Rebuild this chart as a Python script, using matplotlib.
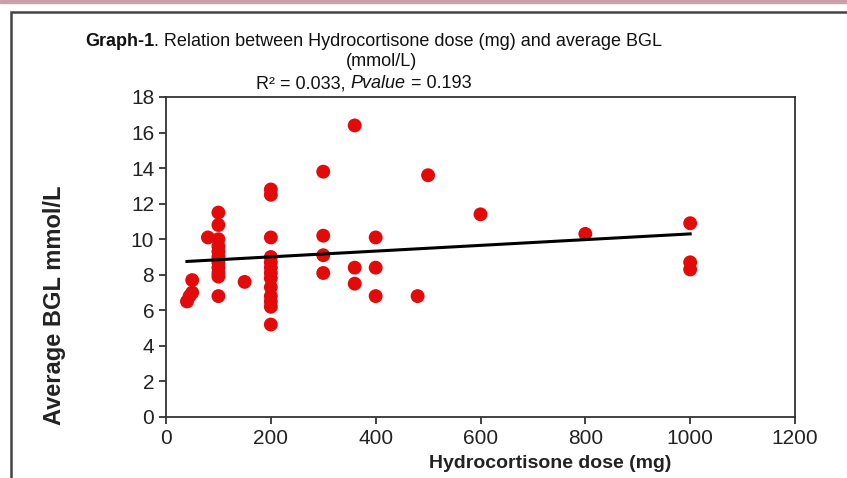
import numpy as np
import matplotlib.pyplot as plt
from matplotlib.patches import Rectangle

# dose (mg) and average BGL (mmol/L)
dose = [40, 45, 50, 50, 80,
        100, 100, 100, 100, 100, 100, 100, 100, 100, 100, 100,
        150,
        200, 200, 200, 200, 200, 200, 200, 200, 200, 200, 200, 200, 200,
        300, 300, 300, 300,
        360, 360, 360,
        400, 400, 400,
        480, 500, 600, 800,
        1000, 1000, 1000]
bgl = [6.5, 6.8, 7.0, 7.7, 10.1,
       11.5, 10.8, 10.0, 9.6, 9.3, 9.0, 8.7, 8.4, 8.1, 7.9, 6.8,
       7.6,
       12.8, 12.5, 10.1, 9.0, 8.7, 8.4, 8.1, 7.8, 7.3, 6.8, 6.5, 6.2, 5.2,
       13.8, 10.2, 9.1, 8.1,
       16.4, 8.4, 7.5,
       10.1, 8.4, 6.8,
       6.8, 13.6, 11.4, 10.3,
       10.9, 8.7, 8.3]

trend_x = [40, 1000]
trend_y = [8.75, 10.3]

xticks = [0, 200, 400, 600, 800, 1000, 1200]
yticks = [0, 2, 4, 6, 8, 10, 12, 14, 16, 18]

plt.rcParams['font.family'] = ['Liberation Sans', 'DejaVu Sans']

W, H = 847, 478
fig = plt.figure(figsize=(W / 100, H / 100), dpi=100)

# outer chart frame and pink strip at the top
fig.patches.append(Rectangle((0, 1 - 3 / H), 1, 3 / H, transform=fig.transFigure,
                             color='#c9a0aa', zorder=0))
fig.patches.append(Rectangle((11 / W, -0.05), 1.1, 1 - 12 / H + 0.05, transform=fig.transFigure,
                             fill=False, edgecolor='#444444', lw=1.8, zorder=0))

ax = fig.add_axes([166 / W, 1 - 417 / H, (795 - 166) / W, (417 - 97) / H])
ax.scatter(dose, bgl, s=100, color='#e30a0a', edgecolors='none', zorder=3)
ax.plot(trend_x, trend_y, color='black', lw=2.2, zorder=4)

ax.set_xlim(0, 1200)
ax.set_ylim(0, 18)
ax.set_xticks(xticks)
ax.set_yticks(yticks)
ax.tick_params(labelsize=15, direction='out', length=5, width=1.2, colors='#222222')
for s in ax.spines.values():
    s.set_linewidth(1.3)
    s.set_color('#333333')

fig.text(550 / W, 1 - 463 / H, 'Hydrocortisone dose (mg)', ha='center', va='center',
         fontsize=14, fontweight='bold', color='#222222')
fig.text(55 / W, 1 - 305 / H, 'Average BGL mmol/L', ha='center', va='center',
         rotation=90, fontsize=17, fontweight='bold', color='#222222')

# title, built piece by piece for the bold / italic parts
t1 = fig.text(85 / W, 1 - 41 / H, 'Graph-1', ha='left', va='center', fontsize=13,
              fontweight='bold', color='#111111')
fig.canvas.draw()
bb = t1.get_window_extent()
fig.text(bb.x1 / W, 1 - 41 / H, '. Relation between Hydrocortisone dose (mg) and average BGL',
         ha='left', va='center', fontsize=13, color='#111111')
fig.text(381 / W, 1 - 62 / H, '(mmol/L)', ha='center', va='center', fontsize=13, color='#111111')
t2 = fig.text(256 / W, 1 - 84 / H, 'R² = 0.033, ', ha='left', va='center', fontsize=13, color='#111111')
fig.canvas.draw()
bb2 = t2.get_window_extent()
t3 = fig.text(bb2.x1 / W, 1 - 84 / H, 'Pvalue', ha='left', va='center', fontsize=13,
              style='italic', color='#111111')
fig.canvas.draw()
bb3 = t3.get_window_extent()
fig.text(bb3.x1 / W, 1 - 84 / H, ' = 0.193', ha='left', va='center', fontsize=13, color='#111111')

fig.savefig('out.png', dpi=100)
